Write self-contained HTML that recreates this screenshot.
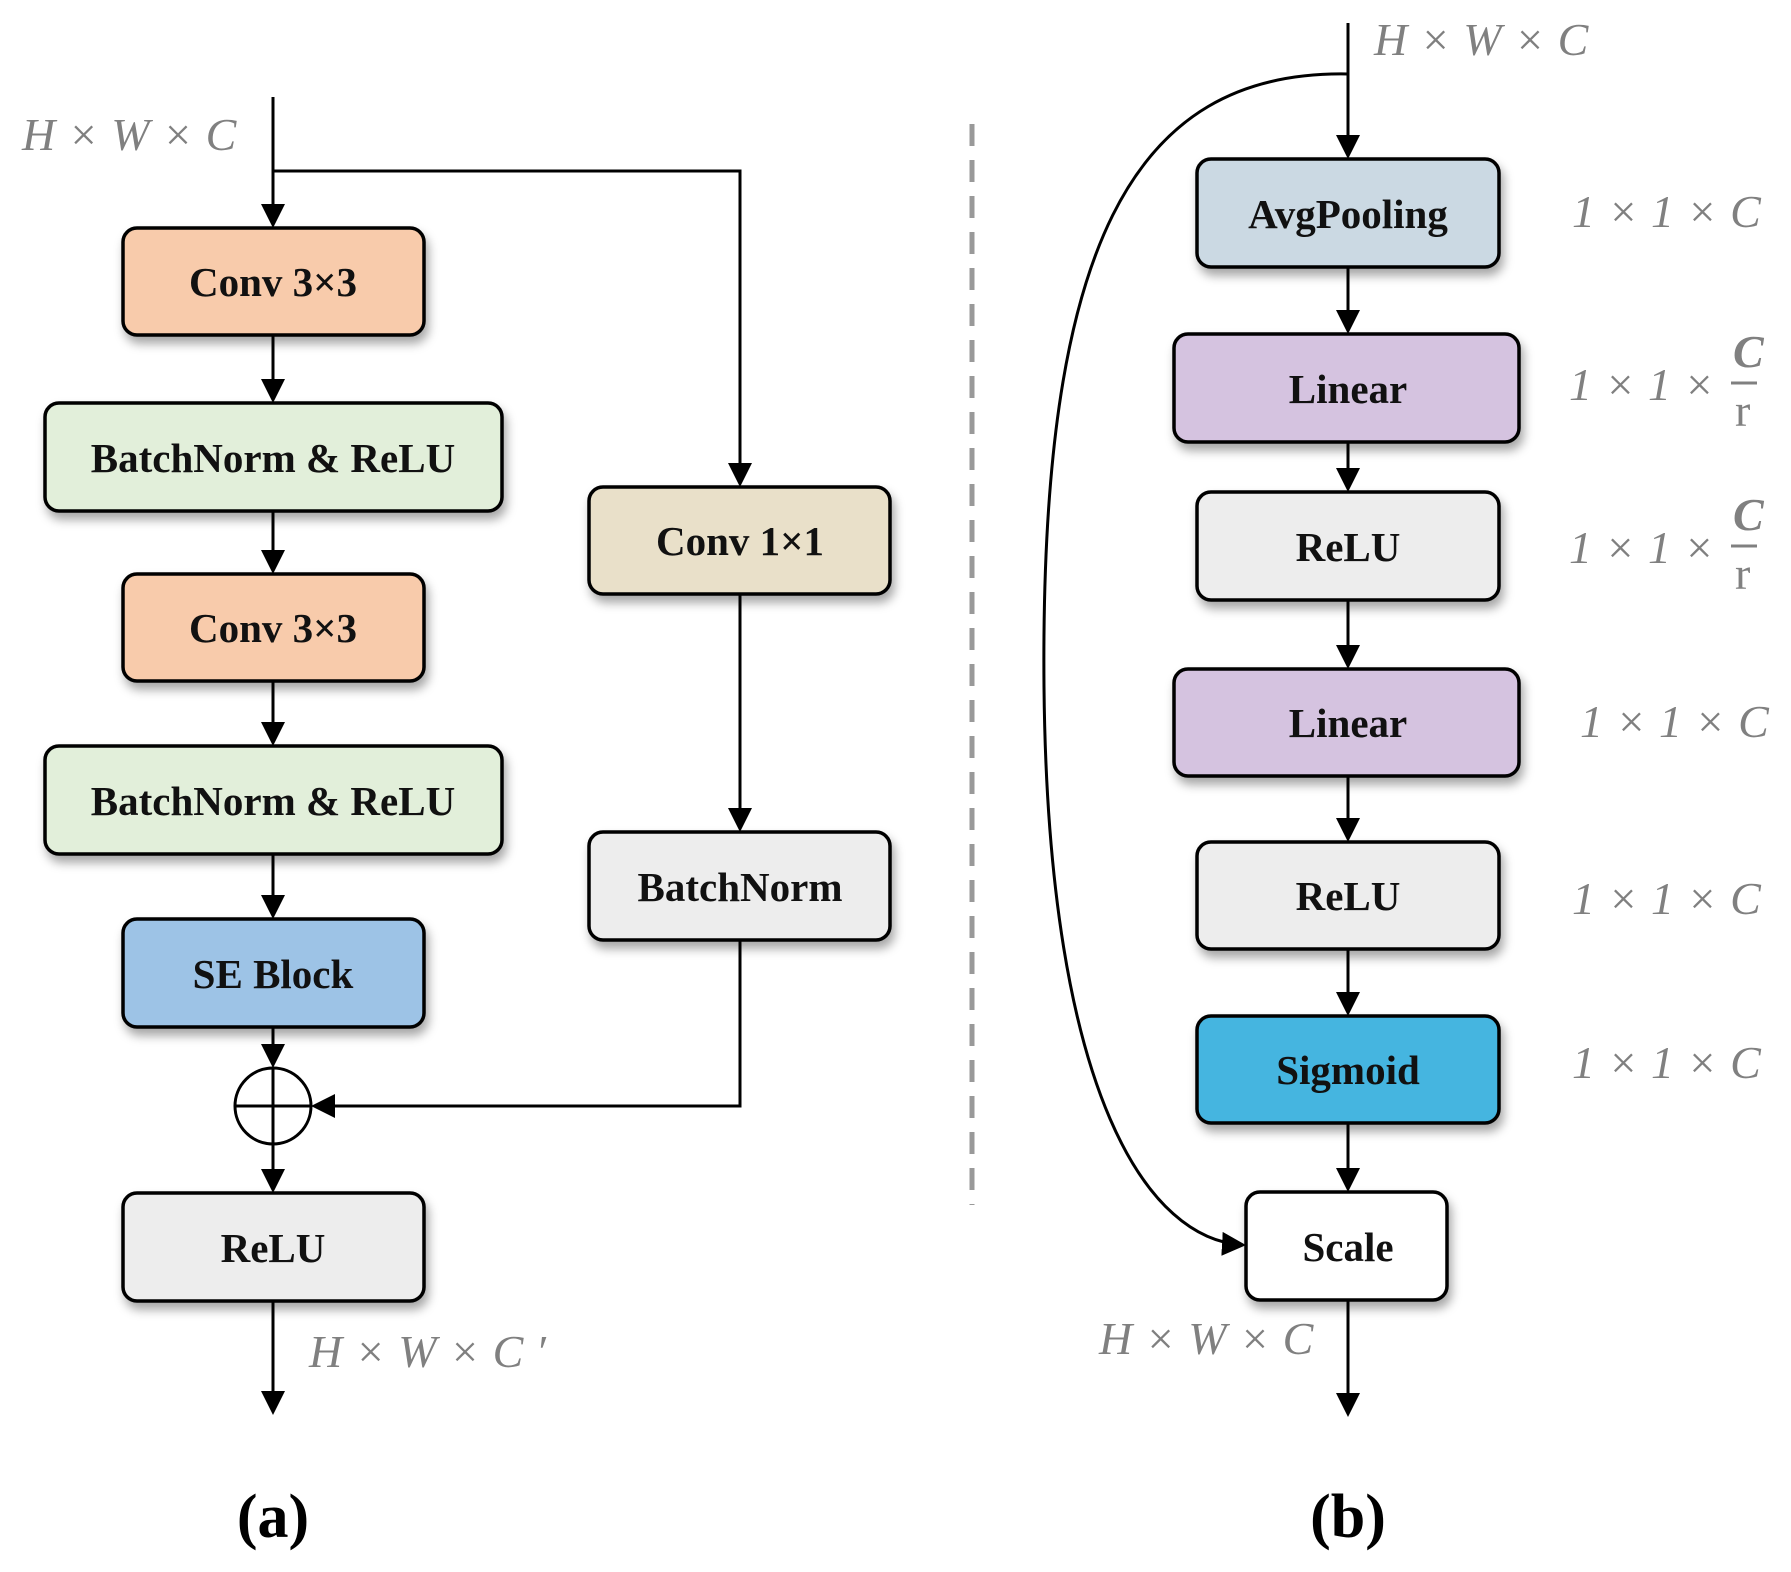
<!DOCTYPE html>
<html><head><meta charset="utf-8"><style>
html,body{margin:0;padding:0;background:#fff}
svg{display:block}
.bt{font-family:"Liberation Serif",serif;font-weight:bold;font-size:41px;fill:#111;text-anchor:middle}
.lb{font-family:"Liberation Serif",serif;font-style:italic;font-size:46px;fill:#808080;letter-spacing:0.5px}
.cap{font-family:"Liberation Serif",serif;font-weight:bold;font-size:62px;fill:#000;text-anchor:middle}
</style></head><body>
<svg width="1791" height="1572" viewBox="0 0 1791 1572" xmlns="http://www.w3.org/2000/svg">
<defs>
<marker id="a" markerWidth="8" markerHeight="8" refX="7" refY="4" orient="auto" markerUnits="strokeWidth">
<path d="M0,0 L8,4 L0,8 z" fill="#000"/></marker>
<filter id="sh" x="-10%" y="-10%" width="125%" height="140%"><feDropShadow dx="3" dy="7" stdDeviation="5" flood-color="#000" flood-opacity="0.35"/></filter>
</defs>
<g stroke="#000" stroke-width="3" fill="none">
<line x1="273" y1="97" x2="273" y2="225" marker-end="url(#a)"/>
<polyline points="273,171 740,171 740,484" marker-end="url(#a)"/>
<line x1="273" y1="335" x2="273" y2="400" marker-end="url(#a)"/>
<line x1="273" y1="511" x2="273" y2="571" marker-end="url(#a)"/>
<line x1="273" y1="681" x2="273" y2="743" marker-end="url(#a)"/>
<line x1="273" y1="854" x2="273" y2="916" marker-end="url(#a)"/>
<line x1="273" y1="1027" x2="273" y2="1065" marker-end="url(#a)"/>
<line x1="273" y1="1144" x2="273" y2="1190" marker-end="url(#a)"/>
<line x1="273" y1="1301" x2="273" y2="1412" marker-end="url(#a)"/>
<line x1="740" y1="594" x2="740" y2="829" marker-end="url(#a)"/>
<polyline points="740,940 740,1106 314,1106" marker-end="url(#a)"/>
<circle cx="273" cy="1106" r="38"/>
<line x1="235" y1="1106" x2="311" y2="1106"/>
<line x1="273" y1="1068" x2="273" y2="1144"/>
<line x1="1348" y1="23" x2="1348" y2="156" marker-end="url(#a)"/>
<path d="M1348,74 C1130,70 1040,250 1044,687 C1048,1100 1150,1240 1243,1245" marker-end="url(#a)"/>
<line x1="1348" y1="267" x2="1348" y2="331" marker-end="url(#a)"/>
<line x1="1348" y1="442" x2="1348" y2="489" marker-end="url(#a)"/>
<line x1="1348" y1="600" x2="1348" y2="666" marker-end="url(#a)"/>
<line x1="1348" y1="776" x2="1348" y2="839" marker-end="url(#a)"/>
<line x1="1348" y1="949" x2="1348" y2="1013" marker-end="url(#a)"/>
<line x1="1348" y1="1123" x2="1348" y2="1189" marker-end="url(#a)"/>
<line x1="1348" y1="1300" x2="1348" y2="1414" marker-end="url(#a)"/>
</g>
<line x1="972" y1="124" x2="972" y2="1205" stroke="#999" stroke-width="5" stroke-dasharray="22,14"/>
<g stroke="#000" stroke-width="3.5" filter="url(#sh)">
<rect x="123" y="228" width="301" height="107" rx="14" fill="#f8cbab"/>
<rect x="45" y="403" width="457" height="108" rx="14" fill="#e2efda"/>
<rect x="123" y="574" width="301" height="107" rx="14" fill="#f8cbab"/>
<rect x="45" y="746" width="457" height="108" rx="14" fill="#e2efda"/>
<rect x="123" y="919" width="301" height="108" rx="14" fill="#9dc3e6"/>
<rect x="123" y="1193" width="301" height="108" rx="14" fill="#ededed"/>
<rect x="589" y="487" width="301" height="107" rx="14" fill="#e9e0c9"/>
<rect x="589" y="832" width="301" height="108" rx="14" fill="#ededed"/>
<rect x="1197" y="159" width="302" height="108" rx="14" fill="#cbd9e3"/>
<rect x="1174" y="334" width="345" height="108" rx="14" fill="#d5c3e0"/>
<rect x="1197" y="492" width="302" height="108" rx="14" fill="#ededed"/>
<rect x="1174" y="669" width="345" height="107" rx="14" fill="#d5c3e0"/>
<rect x="1197" y="842" width="302" height="107" rx="14" fill="#ededed"/>
<rect x="1197" y="1016" width="302" height="107" rx="14" fill="#44b5e0"/>
<rect x="1246" y="1192" width="201" height="108" rx="14" fill="#ffffff"/>
</g>
<g class="bt">
<text x="273" y="296">Conv 3×3</text>
<text x="273" y="472">BatchNorm &amp; ReLU</text>
<text x="273" y="642">Conv 3×3</text>
<text x="273" y="815">BatchNorm &amp; ReLU</text>
<text x="273" y="988">SE Block</text>
<text x="273" y="1262">ReLU</text>
<text x="740" y="555">Conv 1×1</text>
<text x="740" y="901">BatchNorm</text>
<text x="1348" y="228">AvgPooling</text>
<text x="1348" y="403">Linear</text>
<text x="1348" y="561">ReLU</text>
<text x="1348" y="737">Linear</text>
<text x="1348" y="910">ReLU</text>
<text x="1348" y="1084">Sigmoid</text>
<text x="1348" y="1261">Scale</text>
</g>
<g class="lb">
<text x="22" y="150">H × W × C</text>
<text x="309" y="1367">H × W × C ′</text>
<text x="1374" y="55">H × W × C</text>
<text x="1099" y="1354">H × W × C</text>
<text x="1572" y="227">1 × 1 × C</text>
<text x="1569" y="400">1 × 1 ×</text>
<text x="1569" y="563">1 × 1 ×</text>
<text x="1580" y="737">1 × 1 × C</text>
<text x="1572" y="914">1 × 1 × C</text>
<text x="1572" y="1078">1 × 1 × C</text>
<text x="1733" y="367" style="font-weight:bold;letter-spacing:0">C</text>
<text x="1735" y="426" style="font-style:normal;letter-spacing:0">r</text>
<text x="1733" y="530" style="font-weight:bold;letter-spacing:0">C</text>
<text x="1735" y="589" style="font-style:normal;letter-spacing:0">r</text>
</g>
<line x1="1731" y1="383" x2="1757" y2="383" stroke="#808080" stroke-width="3"/>
<line x1="1731" y1="546" x2="1757" y2="546" stroke="#808080" stroke-width="3"/>
<text class="cap" x="273" y="1537">(a)</text>
<text class="cap" x="1348" y="1537">(b)</text>
</svg>
</body></html>
